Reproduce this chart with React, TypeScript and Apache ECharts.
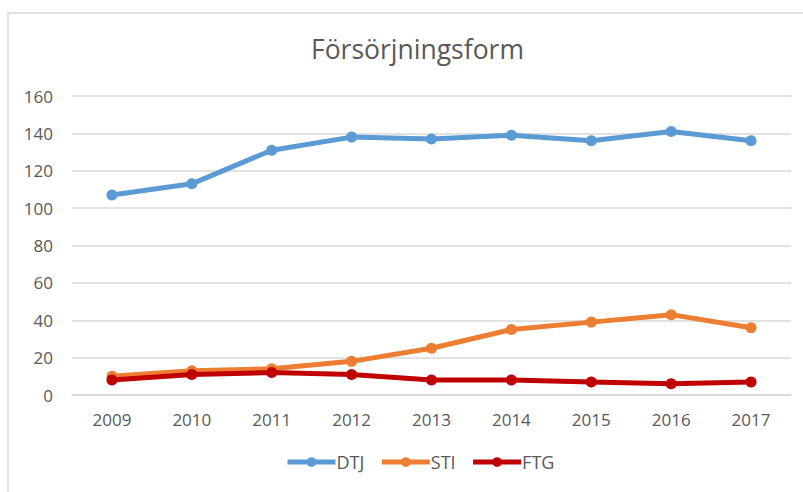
import React, { useEffect, useRef } from "react";
import * as echarts from "echarts";

const title = "Försörjningsform";
const years = ["2009", "2010", "2011", "2012", "2013", "2014", "2015", "2016", "2017"];
const dtj = [107, 113, 131, 138, 137, 139, 136, 141, 136];
const sti = [10, 13, 14, 18, 25, 35, 39, 43, 36];
const ftg = [8, 11, 12, 11, 8, 8, 7, 6, 7];
const seriesNames = ["DTJ", "STI", "FTG"];
const colors = ["#5B9BD5", "#ED7D31", "#C00000"];

export default function App() {
  const ref = useRef<HTMLDivElement>(null);
  useEffect(() => {
    if (!ref.current) return;
    const chart = echarts.init(ref.current, null, { renderer: "svg" });
    const font = "'Open Sans', 'Liberation Sans', sans-serif";
    const data = [dtj, sti, ftg];
    chart.setOption({
      animation: false,
      backgroundColor: "#ffffff",
      textStyle: { fontFamily: font },
      title: {
        text: title,
        left: 306,
        top: 30,
        textStyle: { fontFamily: font, fontSize: 26.5, fontWeight: "normal", color: "#595959" },
      },
      graphic: [
        {
          type: "rect",
          shape: { x: 8, y: 13, width: 820, height: 500 },
          style: { fill: "none", stroke: "#d9d9d9", lineWidth: 1.5 },
          silent: true,
        },
      ],
      legend: {
        bottom: 16,
        left: 280,
        itemWidth: 48,
        itemHeight: 12,
        itemGap: 15,
        data: seriesNames,
        lineStyle: { width: 5 },
        textStyle: { fontFamily: font, fontSize: 18, color: "#595959", padding: [0, 0, 0, -4] },
      },
      grid: { left: 72, right: 12, top: 96, bottom: 97, containLabel: false },
      xAxis: {
        type: "category",
        data: years,
        boundaryGap: true,
        axisLine: { show: true, lineStyle: { color: "#d9d9d9", width: 1.5 } },
        axisTick: { show: false },
        axisLabel: { fontFamily: font, fontSize: 17, color: "#595959", margin: 16 },
      },
      yAxis: {
        type: "value",
        min: 0,
        max: 160,
        interval: 20,
        axisLine: { show: false },
        axisTick: { show: false },
        splitLine: { lineStyle: { color: "#d9d9d9", width: 1.5 } },
        axisLabel: { fontFamily: font, fontSize: 17, color: "#595959", margin: 19 },
      },
      series: seriesNames.map((name, i) => ({
        name,
        type: "line",
        data: data[i],
        symbol: "circle",
        symbolSize: 11,
        color: colors[i],
        lineStyle: { width: 5, color: colors[i] },
        itemStyle: { color: colors[i] },
      })),
    });
    return () => chart.dispose();
  }, []);
  return (
    <div
      ref={ref}
      style={{ position: "fixed", left: 0, top: 0, width: 803, height: 492 }}
    />
  );
}
